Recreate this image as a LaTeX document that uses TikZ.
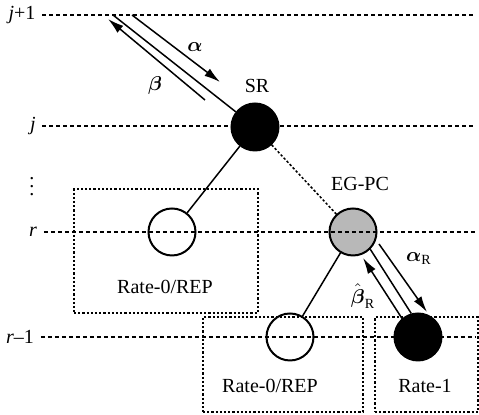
\documentclass[tikz,border=0pt]{standalone}
\usepackage{amsmath, amssymb}
\usepackage{fontspec}
\setmainfont{Liberation Serif}
\usetikzlibrary{arrows.meta}

\tikzset{
    level/.style={line width=0.55pt, dash pattern=on 2pt off 1.5pt},
    group/.style={draw, line width=1.1pt, dash pattern=on 1.1pt off 1pt},
    bit/.style={circle, draw, line width=1pt, minimum size=23.5pt, inner sep=0pt},
    link/.style={line width=0.75pt},
    msg/.style={-{Latex[length=8pt, width=4.5pt]}, line width=0.75pt},
}

\begin{document}
\begin{tikzpicture}[x=0.5pt, y=-0.5pt, font=\fontsize{10}{12}\selectfont]
    \useasboundingbox (0, 0) rectangle (479, 415);

    % depth labels
    \node at (22, 15) (lj1) {\textit{j}+1};
    \node at (33, 126) (lj) {\textit{j}};
    \node[inner sep=0pt] at (32, 181) (dots) {$\vdots$};
    \node at (33, 232) (lr) {\textit{r}};
    \node at (20, 337) (lr1) {\textit{r}--1};
    \coordinate (rim) at (476, 0);

    % node groups
    \node[group, minimum width=92pt, minimum height=62pt] at (166, 251) (g0) {};
    \node[group, minimum width=80pt, minimum height=47.5pt] at (283, 364.5) (g1) {};
    \node[group, minimum width=51.5pt, minimum height=47.5pt] at (426.5, 364.5) (g2) {};
    \node at (165, 287) (g0lab) {Rate-0/REP};
    \node at (270, 386) (g1lab) {Rate-0/REP};
    \node at (425, 386) (g2lab) {Rate-1};

    % tree nodes
    \node[bit, fill=black] at (255, 127) (sr) {};
    \node[bit] at (172, 232) (rep) {};
    \node[bit, fill=black!28] at (353, 232) (egpc) {};
    \node[bit] at (290, 337) (rep2) {};
    \node[bit, fill=black] at (418, 337) (one) {};
    \node at (257, 86) (srlab) {SR};
    \node at (360, 184) (egpclab) {EG-PC};

    \draw[level] (lj1.east) -- (lj1.east -| rim);
    \draw[level] (lj.east -| lj1.east) -- (lj.east -| rim);
    \draw[level] (lr.east) -- (lr.east -| rim);
    \draw[level] (lr1.east) -- (lr1.east -| rim);

    \coordinate (top) at (113, 15);
    \draw[link] (sr) -- (top);
    \draw[link] (sr) -- (rep);
    \draw[link, dash pattern=on 1.2pt off 1pt] (sr) -- (egpc);
    \draw[link] (egpc) -- (rep2);
    \draw[link] (egpc.-45) -- (one.106);

    % messages
    \coordinate (a0) at (132, 15);
    \coordinate (a1) at (220, 82);
    \coordinate (b0) at (205, 100);
    \coordinate (b1) at (108, 19);
    \coordinate (ar0) at (379, 244);
    \coordinate (ar1) at (427, 312);
    \coordinate (br0) at (403, 320);
    \coordinate (br1) at (363, 258);
    \draw[msg] (a0) -- (a1);
    \draw[msg] (b0) -- (b1);
    \draw[msg] (ar0) -- (ar1);
    \draw[msg] (br0) -- (br1);
    \node at (195, 47) (alab) {$\boldsymbol{\alpha}$};
    \node at (155, 86) (blab) {$\boldsymbol{\beta}$};
    \node at (419, 259) (arlab) {$\boldsymbol{\alpha}_{\mathrm{R}}$};
    \node at (363, 296) (brlab) {$\hat{\boldsymbol{\beta}}_{\mathrm{R}}$};
\end{tikzpicture}
\end{document}
